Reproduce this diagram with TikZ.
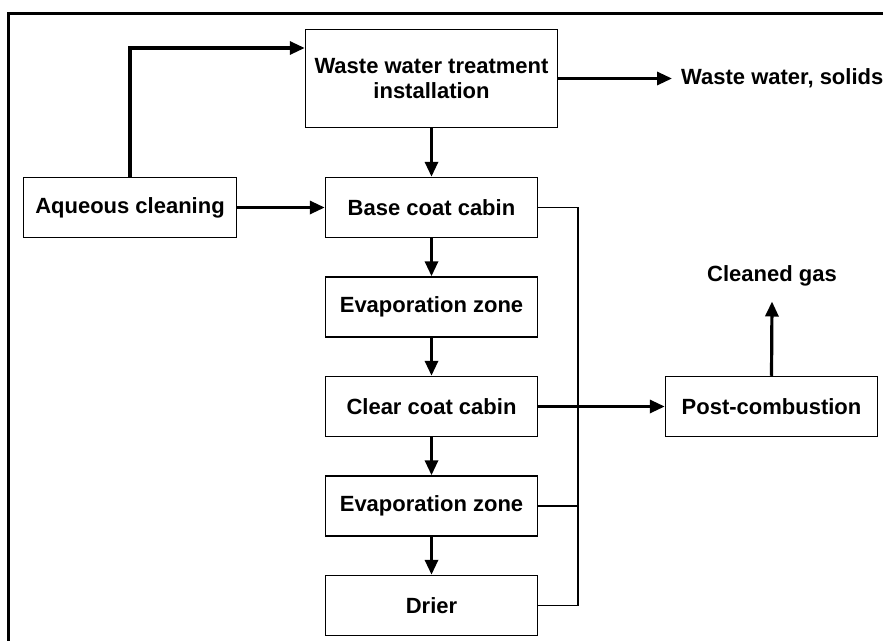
\documentclass[tikz,border=0pt]{standalone}
\usepackage{fontspec}
\setmainfont{Liberation Sans}
\usetikzlibrary{arrows.meta,positioning}
\tikzset{
  procbox/.style={draw,line width=1.5pt,minimum width=212pt,minimum height=60pt,inner sep=2pt,font=\fontsize{22}{25}\selectfont\bfseries,align=center},
  outtext/.style={inner sep=0pt,font=\fontsize{22}{25}\selectfont\bfseries},
  flow/.style={line width=3.2pt,-{Triangle[length=15pt,width=13pt]}},
  bus/.style={line width=1.6pt}
}
\begin{document}
\begin{tikzpicture}[x=1pt,y=-1pt,node distance=38pt]
\useasboundingbox (0,0) rectangle (883,640);
% frame
\draw[line width=3pt] (8.5,645) -- (8.5,13.5) -- (890,13.5);
% process chain
\node[procbox,minimum width=252pt,minimum height=98pt] (wwt) at (431.5,78.5) {Waste water treatment\\installation};
\node[procbox] (base) at (431.5,207.5) {Base coat cabin};
\node[procbox,minimum width=213pt] (aqueous) at (130,207.5) {Aqueous cleaning};
\node[procbox,below=of base] (evapA) {Evaporation zone};
\node[procbox,below=of evapA] (clear) {Clear coat cabin};
\node[procbox,below=of clear] (evapB) {Evaporation zone};
\node[procbox,below=of evapB] (drier) {Drier};
\node[procbox] (post) at (clear -| 771.5,0) {Post-combustion};
% outputs
\node[outtext,anchor=west] (waste) at (wwt.east -| 681,0) {Waste water, solids};
\node[outtext] (gas) at (772,276) {Cleaned gas};
\coordinate (busTop) at (578,207.5);
\coordinate (gasIn) at (0,48);
% connectors
\draw[flow] (aqueous.north) |- (gasIn -| wwt.west);
\draw[flow] (wwt.east) -- ([xshift=-9pt]waste.west);
\draw[flow] (wwt.south) -- (base.north);
\draw[flow] (aqueous.east) -- (base.west);
\draw[flow] (base.south) -- (evapA.north);
\draw[flow] (evapA.south) -- (clear.north);
\draw[flow] (clear.south) -- (evapB.north);
\draw[flow] (evapB.south) -- (drier.north);
\draw[bus] (base.east) -- (busTop) |- (drier.east);
\draw[bus] (evapB.east) -- (evapB.east -| busTop);
\draw[flow] (clear.east) -- (post.west);
\draw[flow] (post.north) -- ([yshift=-15pt]gas.south);
\end{tikzpicture}
\end{document}
